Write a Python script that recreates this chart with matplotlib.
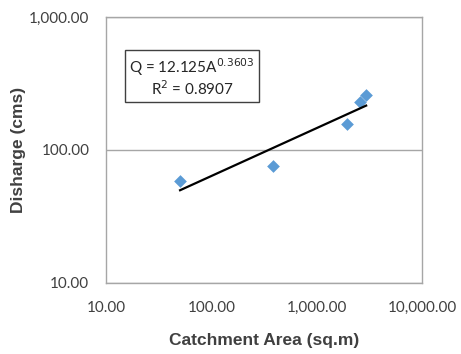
import matplotlib.pyplot as plt
import numpy as np
from matplotlib.ticker import FuncFormatter, NullLocator

# catchment area vs discharge
area = [50.5, 388, 1930, 2580, 2950]
discharge = [58.5, 76.0, 156.5, 230, 259]

coef = 12.125
expo = 0.3603
r2 = 0.8907

fig = plt.figure(figsize=(4.61, 3.54), dpi=100)
ax = fig.add_axes([0.2299, 0.2006, 0.6855, 0.7514])

ax.set_xscale('log')
ax.set_yscale('log')
ax.set_xlim(10, 10000)
ax.set_ylim(10, 1000)

ax.scatter(area, discharge, marker='D', s=42, color='#5B9BD5', zorder=3,
           linewidths=0)

# power trendline
xs = np.logspace(np.log10(min(area)), np.log10(max(area)), 50)
ax.plot(xs, coef * xs ** expo, color='black', lw=1.6, zorder=4)

ax.yaxis.grid(True, which='major', color='#A6A6A6', lw=1)
ax.set_axisbelow(True)
for s in ax.spines.values():
    s.set_color('#A6A6A6')
    s.set_linewidth(1)

fmt = FuncFormatter(lambda v, p: f'{v:,.2f}')
ax.xaxis.set_major_formatter(fmt)
ax.yaxis.set_major_formatter(fmt)
ax.xaxis.set_minor_locator(NullLocator())
ax.yaxis.set_minor_locator(NullLocator())
ax.tick_params(axis='both', length=0, labelsize=11, colors='#404040')
ax.tick_params(axis='x', pad=13)
ax.tick_params(axis='y', pad=12)
for t in ax.get_xticklabels() + ax.get_yticklabels():
    t.set_family('Lato')

lab = dict(family='Liberation Sans', fontsize=12.5, fontweight='bold',
           color='#404040')
ax.set_xlabel('Catchment Area (sq.m)', labelpad=13, **lab)
ax.set_ylabel('Disharge (cms)', labelpad=2, **lab)

ax.text(0.272, 0.774,
        f'Q = {coef}A$^{{{expo}}}$\nR$^2$ = {r2}',
        transform=ax.transAxes, ha='center', va='center', fontsize=11,
        family='Lato', linespacing=1.1, color='#262626',
        bbox=dict(boxstyle='square,pad=0.25', fc='white', ec='#404040', lw=1))

fig.savefig('out.png', dpi=100)
